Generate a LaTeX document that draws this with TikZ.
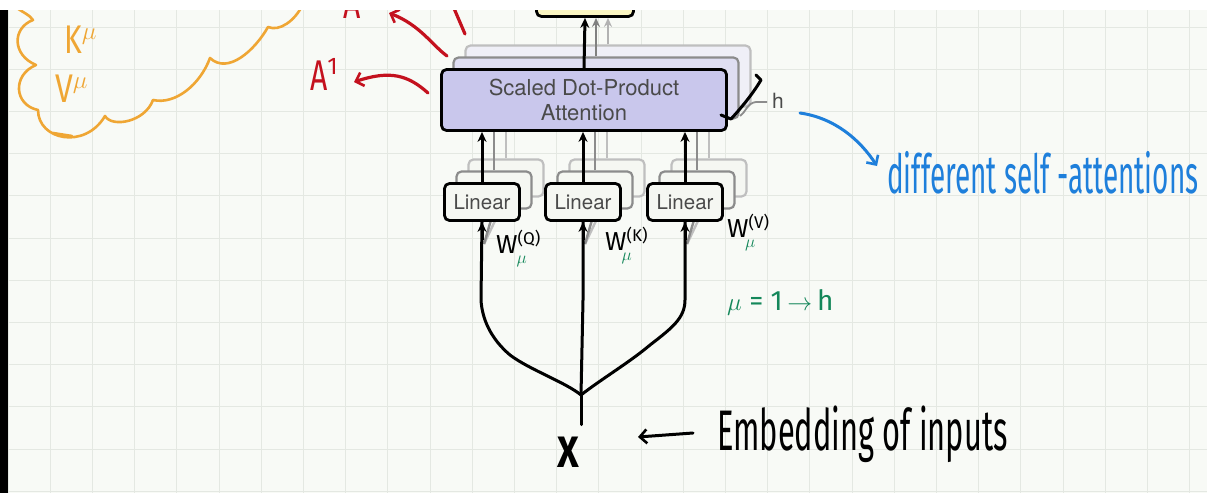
\documentclass[tikz,border=0pt]{standalone}
\usepackage{fontspec}
\usetikzlibrary{arrows.meta}
\newfontfamily\helv{TeX Gyre Heros}
\newfontfamily\hand{Fira Sans}
\definecolor{bg}{HTML}{F8FAF6}
\definecolor{gridc}{HTML}{E4E8E2}
\definecolor{lav}{HTML}{C9C7EC}
\definecolor{lavb}{HTML}{DFDEF2}
\definecolor{lavc}{HTML}{EFEFF7}
\definecolor{yel}{HTML}{FBF6C2}
\definecolor{linfill}{HTML}{F5F7F2}
\definecolor{txtgrey}{HTML}{4A4A4A}
\definecolor{hred}{HTML}{C4111E}
\definecolor{hblue}{HTML}{1E7FDB}
\definecolor{hgreen}{HTML}{14875A}
\definecolor{horange}{HTML}{EFA634}
\newcommand\Wlab[3]{{\fontsize{26}{26}\selectfont W}\raisebox{9pt}{\fontsize{17}{17}\selectfont(#1)}\hspace{#3}\raisebox{-10pt}{\textcolor{hgreen}{\fontsize{19}{19}\selectfont$\mu$}}\hspace{#2}}
\begin{document}
\begin{tikzpicture}[x=1pt,y=-1pt,
  box/.style={draw=black,line width=2.8pt,rounded corners=5pt,inner sep=0pt},
  boxb/.style={box,draw=black!45,line width=2.2pt},
  boxc/.style={box,draw=black!25,line width=2.2pt},
  attnf/.style={fill=lav,minimum width=285pt,minimum height=61pt},
  attnb/.style={boxb,fill=lavb,minimum width=285pt,minimum height=61pt},
  attnc/.style={boxc,fill=lavc,minimum width=285pt,minimum height=61pt},
  linf/.style={box,fill=linfill,minimum width=75pt,minimum height=37pt,
    font={\helv\fontsize{20.5}{22}\selectfont},text=txtgrey},
  linb/.style={boxb,fill=linfill,minimum width=75pt,minimum height=37pt},
  linc/.style={boxc,fill=linfill,minimum width=75pt,minimum height=37pt},
  arr/.style={line width=3pt,-{Stealth[length=10pt,width=9pt]}},
  arrb/.style={line width=2.4pt,draw=black!50,-{Stealth[length=9pt,width=8pt]}},
  arrc/.style={line width=2.4pt,draw=black!30,-{Stealth[length=9pt,width=8pt]}},
  glineb/.style={line width=2.4pt,draw=black!45},
  glinec/.style={line width=2.4pt,draw=black!25},
  hand/.style={line width=3pt,line cap=round,line join=round},
  barb/.style={-{Straight Barb[length=7pt,width=14pt,line width=2.6pt]}},
  redpen/.style={hand,draw=hred,line width=3.2pt},
  bluepen/.style={hand,draw=hblue},
  orangepen/.style={hand,draw=horange,line width=2.6pt},
  blackpen/.style={hand,draw=black}]
\useasboundingbox (0,0) rectangle (1207,493);
% paper
\fill[bg] (0,0) rectangle (1207,493);
\foreach \i in {0,...,28} \draw[gridc,line width=0.9pt] ({8+42.2*\i},10) -- ({8+42.2*\i},493);
\foreach \j in {0,...,11} \draw[gridc,line width=0.9pt] (8,{27+42.2*\j}) -- (1207,{27+42.2*\j});
\fill[black] (0,10) rectangle (8,493);

% output box (top, cut)
\node[box,fill=yel,minimum width=97pt,minimum height=33pt] (out) at (585,0) {};

% attention stack
\node[attnc] (attc) at (608,76) {};
\node[attnb] (attb) at (596,88) {};
\node[box,attnf,align=center,text=txtgrey,font={\helv\fontsize{22}{25}\selectfont}] (att) at (584,100) {Scaled Dot-Product\\Attention};

% linear stacks
\foreach \n/\x in {1/482,2/583,3/685}{
  \node[linc] (L\n c) at (\x+24,178) {};
  \node[linb] (L\n b) at (\x+12,190) {};
  \coordinate (F\n) at (\x+2,244);
  \draw[glinec] (F\n) -- (L\n c.south);
  \draw[glineb] (F\n) -- (L\n b.south);
  \node[linf] (L\n) at (\x,202) {Linear};
  \draw[glinec] (L\n c.north) -- (L\n c.north |- att.south);
  \draw[glineb] (L\n b.north) -- (L\n b.north |- att.south);
  \draw[arr] (L\n.north) -- (L\n.north |- att.south);
}

% top arrows
\draw[arrc] (attc.north) -- (attc.north |- out.south);
\draw[arrb] (attb.north) -- (attb.north |- out.south);
\draw[arr] (att.north) -- (out.south);

% h label
\draw[line width=1.8pt,draw=black!45] (740,116) .. controls (746,112) and (747,103) .. (756,102) -- (767,102);
\node[text=txtgrey,font={\helv\fontsize{21}{21}\selectfont},anchor=base] (hlab) at (778,108) {h};
\draw[blackpen] (756,75) -- (761,80) .. controls (752,95) and (741,108) .. (731,119) -- (721,115);

% input tree
\node[font={\hand\bfseries\fontsize{44}{44}\selectfont},inner sep=0pt] (X) at (568,452) {\scalebox{0.85}[1]{X}};
\coordinate (J) at (581,395);
\draw[blackpen,shorten >=12pt] (J) -- (J |- X.north);
\draw[blackpen] (J) -- (583,300) -- (L2.south);
\draw[blackpen] (J) .. controls (565,382) and (530,370) .. (510,355) .. controls (490,338) and (482,318) .. (481,300) -- (L1.south);
\draw[blackpen] (J) .. controls (600,380) and (630,362) .. (650,345) .. controls (672,328) and (685,318) .. (685,300) -- (L3.south);
\foreach \n in {1,2,3} \draw[arr] ([yshift=-18pt]L\n.south) -- (L\n.south);

% weight labels
\node[font=\hand,anchor=base west,inner sep=0pt] (W1) at (496,253) {\Wlab{Q}{14pt}{-24pt}};
\node[font=\hand,anchor=base west,inner sep=0pt] (W2) at (605,250) {\Wlab{K}{14pt}{-26pt}};
\node[font=\hand,anchor=base west,inner sep=0pt] (W3) at (727,237) {\Wlab{V}{14pt}{-24pt}};
\node[font={\hand\fontsize{28}{28}\selectfont},text=hgreen,anchor=base west,inner sep=0pt] (mu) at (727,310) {$\mu$ = 1\,$\rightarrow$\,h};

% embedding
\node[font={\hand\fontsize{44}{44}\selectfont},anchor=base west,inner sep=0pt] (emb) at (717,450) {\scalebox{0.7}[1.3]{Embedding of inputs}};
\coordinate (ea) at (693,433);
\coordinate (eb) at (638,437);
\draw[blackpen,barb] (ea) -- (eb);

% blue annotation
\node[font={\hand\fontsize{30}{30}\selectfont},text=hblue,anchor=base west,inner sep=0pt] (diff) at (887,193) {\scalebox{0.93}[1.8]{different self -attentions}};
\coordinate (bs) at (800,113);
\coordinate (be) at (877,166);
\draw[bluepen,barb] (bs) .. controls (835,118) and (860,140) .. (be);

% red annotations
\node[font={\hand\fontsize{43}{43}\selectfont},text=hred,anchor=base west,inner sep=0pt] (A1) at (310,90) {\scalebox{0.7}[1]{A}\raisebox{16pt}{\fontsize{24}{24}\selectfont 1}};
\coordinate (ra1) at (428,93);
\coordinate (ra1t) at (354,82);
\draw[redpen,barb] (ra1) .. controls (408,75) and (390,70) .. (ra1t);
\node[font={\hand\fontsize{43}{43}\selectfont},text=hred,anchor=base west,inner sep=0pt] (A2) at (343,18) {\scalebox{0.7}[1]{A}};
\coordinate (ra2) at (447,56);
\coordinate (ra2t) at (389,13);
\draw[redpen,barb] (ra2) .. controls (432,45) and (420,25) .. (ra2t);
\draw[redpen] (453,6) -- (465,34);

% orange cloud
\draw[orangepen] (14,6) .. controls (22,12) and (30,15) .. (33,20)
  .. controls (12,28) and (12,55) .. (36,65)
  .. controls (12,75) and (14,105) .. (38,110)
  .. controls (38,140) and (85,150) .. (105,116)
  .. controls (112,128) and (145,122) .. (153,100)
  .. controls (175,105) and (200,85) .. (210,58)
  .. controls (228,75) and (255,50) .. (268,27)
  .. controls (280,32) and (295,20) .. (302,6);
\draw[orangepen] (53,133) -- (72,136);
\node[font={\hand\fontsize{40}{40}\selectfont},text=horange,anchor=base west,inner sep=0pt] (K) at (64,53) {\scalebox{0.75}[1]{K}\raisebox{14pt}{\fontsize{24}{24}\selectfont$\mu$}};
\node[font={\hand\fontsize{40}{40}\selectfont},text=horange,anchor=base west,inner sep=0pt] (V) at (55,102) {\scalebox{0.8}[1]{V}\raisebox{14pt}{\fontsize{24}{24}\selectfont$\mu$}};

% top white strip of frame
\fill[white] (0,0) rectangle (1207,10);
\end{tikzpicture}
\end{document}
